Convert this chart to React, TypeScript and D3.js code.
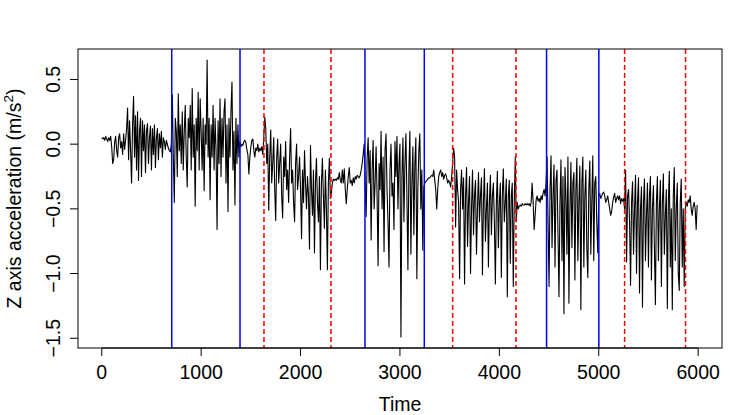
import React from "react";
import * as d3 from "d3";

// Z axis acceleration, one value every 10 samples
const z0000 = [
  0.05, 0.04, 0.05, 0.03, 0.06, 0.04, 0.02, 0.05, 0.03, 0.06,
  -0.02, -0.15, -0.12, 0.02, 0.06, -0.05, -0.1, 0.05, 0.08, -0.03,
  0.02, -0.08, 0.08, -0.04, 0.03, 0.12, 0.28, -0.12, 0.18, -0.05,
  -0.3, 0.15, 0.37, -0.1, 0.22, -0.2, 0.25, -0.28, 0.1, 0.2,
  -0.25, 0.18, -0.05, 0.15, -0.22, 0.1, 0.16, -0.15, 0.05, 0.14,
  -0.2, 0.12, -0.08, 0.15, -0.18, 0.05, 0.12, -0.12, 0.08, -0.03,
  0.1, -0.1, 0.05, 0.02, -0.04, 0.03, 0.0, -0.03, -0.05, -0.06,
  0.0, 0.38, -0.1, -0.45, 0.2, 0.1, -0.25, 0.39, -0.05, 0.15,
  -0.15, 0.25, -0.2, 0.1, 0.3, -0.1, -0.33, 0.2, 0.05, 0.3,
  -0.2, 0.43, -0.1, 0.15, -0.48, 0.2, -0.05, 0.4, -0.2, 0.35,
];
const z1000 = [
  0.1, -0.2, 0.2, -0.36, 0.15, 0.0, 0.65, -0.1, 0.2, -0.43,
  0.15, -0.1, 0.3, -0.2, 0.2, -0.05, -0.66, 0.18, -0.15, 0.35,
  -0.25, 0.2, -0.1, 0.25, 0.35, -0.3, 0.15, -0.52, 0.2, -0.1,
  0.25, 0.48, -0.2, 0.1, -0.47, 0.2, -0.15, 0.15, -0.1, 0.02,
  -0.02, 0.0, -0.01, 0.02, 0.03, 0.01, -0.04, -0.08, -0.23, -0.1,
  -0.02, 0.03, 0.04, -0.05, -0.1, -0.03, -0.05, 0.0, -0.06, -0.03,
  -0.05, -0.02, -0.08, 0.05, 0.21, 0.12, -0.15, 0.0, -0.51, -0.1,
  0.11, -0.3, -0.15, 0.05, -0.35, -0.59, -0.1, 0.04, -0.3, -0.15,
  0.0, -0.4, -0.57, -0.1, -0.25, 0.02, -0.35, -0.2, -0.45, -0.1,
  0.12, -0.3, -0.2, -0.45, -0.6, -0.15, 0.0, -0.35, -0.25, -0.1,
];
const z2000 = [
  -0.35, -0.73, -0.2, -0.45, -0.05, -0.3, -0.5, -0.25, -0.4, -0.81,
  -0.01, -0.35, -0.55, -0.2, -0.84, -0.3, -0.11, -0.45, -0.6, -0.25,
  -0.97, -0.3, -0.11, -0.4, -0.65, -0.2, -0.5, -0.97, -0.3, -0.11,
  -0.42, -0.38, -0.3, -0.27, -0.28, -0.27, -0.28, -0.26, -0.27, -0.22,
  -0.28, -0.3, -0.2, -0.3, -0.19, -0.35, -0.46, -0.35, -0.25, -0.18,
  -0.3, -0.28, -0.32, -0.26, -0.3, -0.25, -0.27, -0.24, -0.25, -0.26,
  -0.24, -0.2, -0.15, -0.08, 0.0, -0.3, -0.56, -0.1, 0.05, -0.3,
  -0.05, -0.74, -0.2, 0.03, -0.5, -0.3, -0.02, -0.4, -0.94, -0.15,
  -0.35, 0.1, -0.5, -0.1, -0.83, -0.05, 0.08, -0.35, -0.6, -0.95,
  -0.2, 0.0, -0.4, -0.3, -0.66, 0.02, -0.25, 0.06, -0.5, -0.15,
];
const z3000 = [
  0.0, -1.49, -0.25, 0.05, -0.6, -0.15, 0.08, -0.4, -0.97, -0.2,
  0.1, -0.85, -0.3, -0.02, -0.7, -0.15, 0.05, -1.04, -0.35, -0.05,
  0.08, -0.5, -0.2, -0.82, -0.33, -0.3, -0.29, -0.28, -0.27, -0.26,
  -0.26, -0.25, -0.24, -0.25, -0.2, -0.28, -0.35, -0.5, -0.35, -0.25,
  -0.22, -0.2, -0.25, -0.22, -0.27, -0.24, -0.23, -0.26, -0.3, -0.28,
  -0.3, -0.33, -0.25, -0.15, -0.03, -0.1, -0.64, -0.2, -0.35, -0.45,
  -1.04, -0.35, -0.2, -0.5, -0.26, -1.08, -0.4, -0.18, -0.79, -0.45,
  -0.25, -1.0, -0.5, -0.2, -0.7, -0.4, -0.28, -0.85, -0.5, -0.22,
  -0.6, -0.4, -0.26, -1.01, -0.45, -0.19, -0.75, -0.5, -0.3, -0.95,
  -0.45, -0.24, -0.7, -0.4, -0.3, -0.6, -1.08, -0.45, -0.21, -0.8,
];
const z4000 = [
  -0.45, -0.3, -1.03, -0.4, -0.19, -0.6, -0.45, -0.27, -1.18, -0.4,
  -0.28, -0.92, -0.4, -0.3, -1.1, -0.45, -0.1, -0.6, -0.45, -0.5,
  -0.48, -0.47, -0.48, -0.46, -0.47, -0.47, -0.46, -0.47, -0.46, -0.47,
  -0.46, -0.48, -0.45, -0.3, -0.45, -0.66, -0.55, -0.43, -0.4, -0.44,
  -0.42, -0.45, -0.4, -0.43, -0.38, -0.35, -0.4, -0.3, -0.1, -0.6,
  -1.1, -0.35, -0.09, -0.8, -0.4, -0.16, -0.95, -0.28, -0.2, -0.7,
  -1.18, -0.45, -0.12, -0.9, -0.25, -1.31, -0.18, -0.4, -0.85, -0.1,
  -1.23, -0.5, -0.14, -0.8, -0.3, -0.22, -1.05, -0.35, -0.11, -0.9,
  -0.45, -0.17, -1.28, -0.3, -0.1, -0.95, -0.4, -0.2, -0.8, -1.03,
  -0.35, -0.13, -0.85, -0.45, -0.09, -0.9, -0.3, -0.25, -0.6, -0.84,
];
const z5000 = [
  -0.4, -0.38, -0.42, -0.4, -0.38, -0.37, -0.4, -0.45, -0.43, -0.4,
  -0.45, -0.5, -0.55, -0.52, -0.45, -0.41, -0.38, -0.45, -0.42, -0.4,
  -0.43, -0.4, -0.46, -0.42, -0.44, -0.42, -0.5, -0.2, -0.91, -0.4,
  -0.35, -0.6, -1.09, -0.45, -0.29, -0.85, -0.5, -0.24, -1.0, -0.45,
  -0.26, -1.15, -0.5, -0.33, -1.26, -0.45, -0.27, -0.9, -0.55, -0.3,
  -0.95, -0.4, -0.25, -1.05, -0.5, -0.32, -0.8, -1.24, -0.45, -0.25,
  -0.9, -0.5, -0.28, -1.1, -0.45, -0.23, -0.85, -0.55, -0.35, -1.27,
  -0.45, -0.21, -0.95, -0.5, -1.28, -0.4, -0.18, -0.9, -0.5, -0.3,
  -1.0, -1.13, -0.45, -0.27, -0.95, -0.5, -1.1, -0.5, -0.45, -0.48,
  -0.43, -0.45, -0.4, -0.5, -0.55, -0.48, -0.45, -0.5, -0.66, -0.47,
];

const sampleStep = 10;
const seriesSpan = [1, 6000];

// change points
const blueLines = [704, 1391, 2648, 3245, 4475, 5001];
const redLines = [1632, 2306, 3530, 4167, 5260, 5873];

const xTicks = [0, 1000, 2000, 3000, 4000, 5000, 6000];
const yTicks = [-1.5, -1.0, -0.5, 0.0, 0.5];

const W = 747;
const H = 415;
const plot = { left: 78, right: 722, top: 49, bottom: 348 };
const font = "'Liberation Sans', Arial, Helvetica, sans-serif";
const fs = 19.5;

// R-style 4% padding of the range
const pad = (lo: number, hi: number): [number, number] => {
  const d = (hi - lo) * 0.04;
  return [lo - d, hi + d];
};

const fmt = (v: number) => (v < 0 ? "\u2212" : "") + Math.abs(v).toFixed(1);

export default function App() {
  const values = [...z0000, ...z1000, ...z2000, ...z3000, ...z4000, ...z5000];
  const data = values.map((v, i) => ({ t: i * sampleStep, v }));

  const x = d3
    .scaleLinear()
    .domain(pad(seriesSpan[0], seriesSpan[1]))
    .range([plot.left, plot.right]);
  const [vMin, vMax] = d3.extent(values) as [number, number];
  const y = d3.scaleLinear().domain(pad(vMin, vMax)).range([plot.bottom, plot.top]);

  const line = d3
    .line<{ t: number; v: number }>()
    .x((d) => x(d.t))
    .y((d) => y(d.v));

  const midY = (plot.top + plot.bottom) / 2;

  return (
    <>
      <style>{"body{margin:0}"}</style>
      <svg width={W} height={H} style={{ display: "block", background: "#fff" }} fontFamily={font}>
        <defs>
          <clipPath id="plotClip">
            <rect x={plot.left} y={plot.top} width={plot.right - plot.left} height={plot.bottom - plot.top} />
          </clipPath>
        </defs>

        <g clipPath="url(#plotClip)">
          <path d={line(data) ?? ""} fill="none" stroke="#000" strokeWidth={1.1} strokeLinejoin="round" />
          {blueLines.map((t) => (
            <line key={"b" + t} x1={x(t)} x2={x(t)} y1={plot.top} y2={plot.bottom} stroke="#0000ff" strokeWidth={1.5} />
          ))}
          {redLines.map((t) => (
            <line
              key={"r" + t}
              x1={x(t)}
              x2={x(t)}
              y1={plot.top}
              y2={plot.bottom}
              stroke="#ff0000"
              strokeWidth={1.5}
              strokeDasharray="5,3"
            />
          ))}
        </g>

        {/* box */}
        <rect
          x={plot.left}
          y={plot.top}
          width={plot.right - plot.left}
          height={plot.bottom - plot.top}
          fill="none"
          stroke="#000"
          strokeWidth={1}
        />

        {/* x axis */}
        <line x1={x(xTicks[0])} x2={x(xTicks[xTicks.length - 1])} y1={plot.bottom} y2={plot.bottom} stroke="#000" />
        {xTicks.map((t) => (
          <g key={"xt" + t}>
            <line x1={x(t)} x2={x(t)} y1={plot.bottom} y2={plot.bottom + 8} stroke="#000" />
            <text x={x(t)} y={379} textAnchor="middle" fontSize={fs} fill="#000">
              {t}
            </text>
          </g>
        ))}
        <text x={(plot.left + plot.right) / 2} y={411} textAnchor="middle" fontSize={fs} fill="#000">
          Time
        </text>

        {/* y axis */}
        {yTicks.map((v) => (
          <g key={"yt" + v}>
            <line x1={plot.left - 8} x2={plot.left} y1={y(v)} y2={y(v)} stroke="#000" />
            <text
              transform={`translate(59.5,${y(v)}) rotate(-90)`}
              textAnchor="middle"
              fontSize={fs}
              fill="#000"
            >
              {fmt(v)}
            </text>
          </g>
        ))}
        <text transform={`translate(21,${midY}) rotate(-90)`} textAnchor="middle" fontSize={fs} fill="#000">
          Z axis acceleration (m/s
          <tspan fontSize={fs * 0.7} dy={-8}>
            2
          </tspan>
          <tspan dy={8}>)</tspan>
        </text>
      </svg>
    </>
  );
}
